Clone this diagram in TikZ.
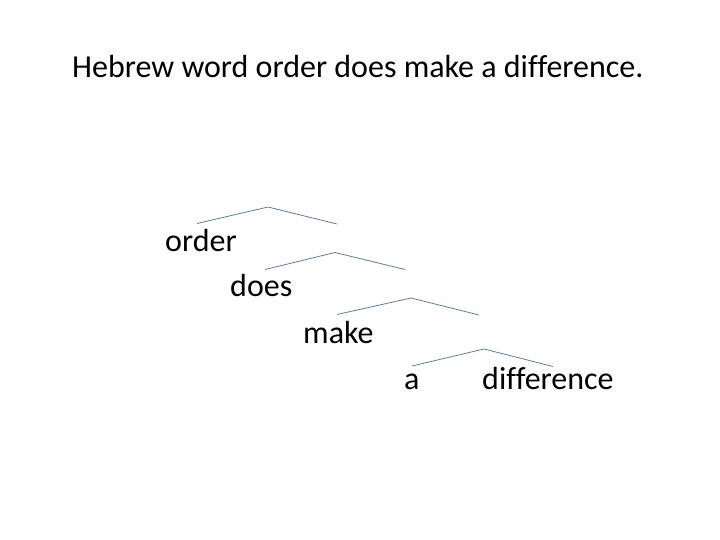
\documentclass[tikz,border=0pt]{standalone}
\usepackage{fontspec}
\setmainfont{Carlito}[Ligatures=NoCommon]
\usepackage{xcolor}
\definecolor{roofblue}{RGB}{90,125,165}
\tikzset{word/.style={anchor=base west,inner sep=0pt,font=\fontsize{32}{38}\selectfont},
roof/.style={roofblue,line width=0.8pt}}

\begin{document}
\begin{tikzpicture}[x=1pt,y=-1pt]
\useasboundingbox (0,0) rectangle (720,540);
\node[word] (title) at (72,77.5){Hebrew word order does make a difference.};
% words of the tree
\node[word] (order) at (165,251.5){order};
\node[word] (does) at (230,296){does};
\node[word] (make) at (303,343){make};
\node[word] (a) at (404,389){a};
\node[word] (diff) at (482,389){difference};
% roofs
\coordinate (l1) at (197,223.5);\coordinate (t1) at (268,207);\coordinate (r1) at (337,224);
\coordinate (l2) at (265,269.5);\coordinate (t2) at (335,252.5);\coordinate (r2) at (405,269.5);
\coordinate (l3) at (337,314.5);\coordinate (t3) at (411,298);\coordinate (r3) at (479,315);
\coordinate (l4) at (412,366);\coordinate (t4) at (484,349);\coordinate (r4) at (553,366.5);
\draw[roof](l1)--(t1)--(r1);
\draw[roof](l2)--(t2)--(r2);
\draw[roof](l3)--(t3)--(r3);
\draw[roof](l4)--(t4)--(r4);
\end{tikzpicture}
\end{document}
